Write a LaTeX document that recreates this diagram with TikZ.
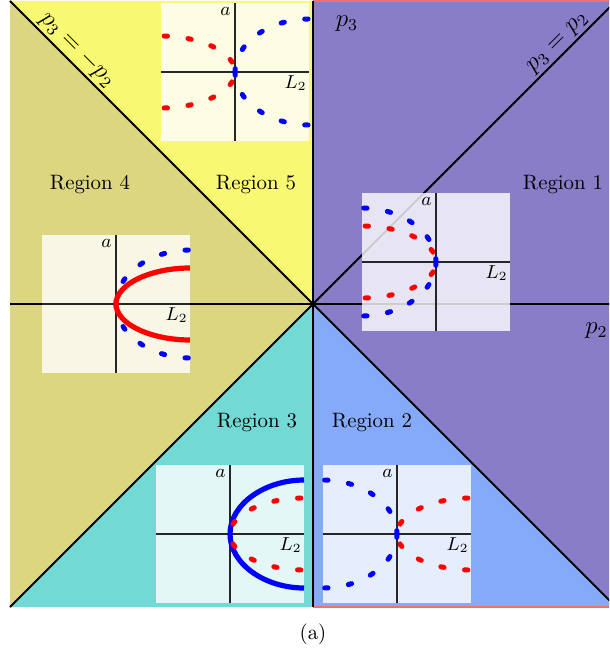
\documentclass[tikz,border=0pt]{standalone}
\usepackage{amsmath}
\usepackage{tikz}
\usetikzlibrary{calc}
\definecolor{regolive}{RGB}{220,214,128}
\definecolor{regyellow}{RGB}{249,248,115}
\definecolor{regpurple}{RGB}{137,125,200}
\definecolor{regteal}{RGB}{115,217,213}
\definecolor{regblue}{RGB}{133,170,250}
\definecolor{edgered}{RGB}{245,110,110}

% one sideways branch pair: style, opening side (+1/-1), half height
\newcommand{\branch}[3]{%
  \draw[#1] (0,0) .. controls (0,{-0.556*#3}) and ({#2*35},{-#3}) .. ({#2*74},{-#3});
  \draw[#1] (0,0) .. controls (0,{0.556*#3}) and ({#2*35},{#3}) .. ({#2*74},{#3});}
% inset frame with its two axes
\newcommand{\insetframe}[1]{%
  \fill[white, fill opacity=0.8] (-74,-69) rectangle (74,69);
  \draw[axisline] (-74,0) -- (74,0);
  \draw[axisline] (0,-69) -- (0,69);
  \node[lbl, anchor=north east] (#1a) at (-2,-67) {$a$};
  \node[lbl, anchor=north east] (#1L) at (74,1) {$L_2$};}

\begin{document}
\begin{tikzpicture}[
    x=0.48pt, y=-0.48pt,
    mainline/.style={black, line width=0.9pt},
    axisline/.style={black!85, line width=0.7pt},
    curvedash/.style={line width=2.4pt, line cap=round, dash pattern=on 1.6pt off 9.9pt},
    curvesolid/.style={line width=2.5pt},
    lbl/.style={font=\small, inner sep=1pt},
    bound/.style={anchor=south, inner sep=1pt, font=\large}
]
\useasboundingbox (0,0) rectangle (609,654);
\begin{scope}
\clip (0,0) rectangle (609,654);
\coordinate (C) at (313,304);
\coordinate (TL) at (10,1);
\coordinate (TM) at (313,1);
\coordinate (TR) at (616,1);
\coordinate (BL) at (10,607);
\coordinate (BM) at (313,607);
\coordinate (BR) at (616,607);
\coordinate (ML) at (10,304);
\coordinate (MR) at (616,304);

\fill[regolive] (TL) -- (C) -- (BL) -- cycle;
\fill[regyellow] (TL) -- (TM) -- (C) -- cycle;
\fill[regpurple] (TM) -- (TR) -- (BR) -- (C) -- cycle;
\fill[regblue] (C) -- (BR) -- (BM) -- cycle;
\fill[regteal] (C) -- (BM) -- (BL) -- cycle;
\draw[edgered, line width=1pt] (TM) -- (TR);
\draw[edgered, line width=1pt] (BM) -- (BR);

\draw[mainline] (ML) -- (MR);
\draw[mainline] (TM) -- (BM);
\draw[mainline] (TL) -- (BR);
\draw[mainline] (BL) -- (TR);

\node[bound, rotate=-45] (negline) at (68.5,58.5) {$p_3 = -p_2$};
\node[bound, rotate=45] (posline) at (565.5,50.5) {$p_3 = p_2$};
\node[font=\large] (pthree) at (347,24) {$p_3$};
\node[font=\large, anchor=west, inner sep=0pt] (ptwo) at (585,331) {$p_2$};

\node (reg4) at (90,185) {Region 4};
\node (reg5) at (256,185) {Region 5};
\node (reg1) at (563,185) {Region 1};
\node (reg3) at (257,423) {Region 3};
\node (reg2) at (372,423) {Region 2};

\begin{scope}[shift={(235,72)}]
  \insetframe{five}
  \branch{red, curvedash, dash phase=6.5pt}{-1}{36}
  \branch{blue, curvedash}{1}{53}
\end{scope}
\begin{scope}[shift={(436,262)}]
  \insetframe{one}
  \branch{red, curvedash, dash phase=6.5pt}{-1}{36}
  \branch{blue, curvedash}{-1}{54}
\end{scope}
\begin{scope}[shift={(116,304)}]
  \insetframe{four}
  \branch{blue, curvedash}{1}{54}
  \branch{red, curvesolid}{1}{36}
\end{scope}
\begin{scope}[shift={(230,534)}]
  \insetframe{three}
  \branch{blue, curvesolid}{1}{54}
  \branch{red, curvedash, dash phase=6.5pt}{1}{36}
\end{scope}
\begin{scope}[shift={(397,534)}]
  \insetframe{two}
  \branch{red, curvedash, dash phase=6.5pt}{1}{36}
  \branch{blue, curvedash}{-1}{54}
\end{scope}
\end{scope}

\node (cap) at (313,634) {(a)};
\end{tikzpicture}
\end{document}
